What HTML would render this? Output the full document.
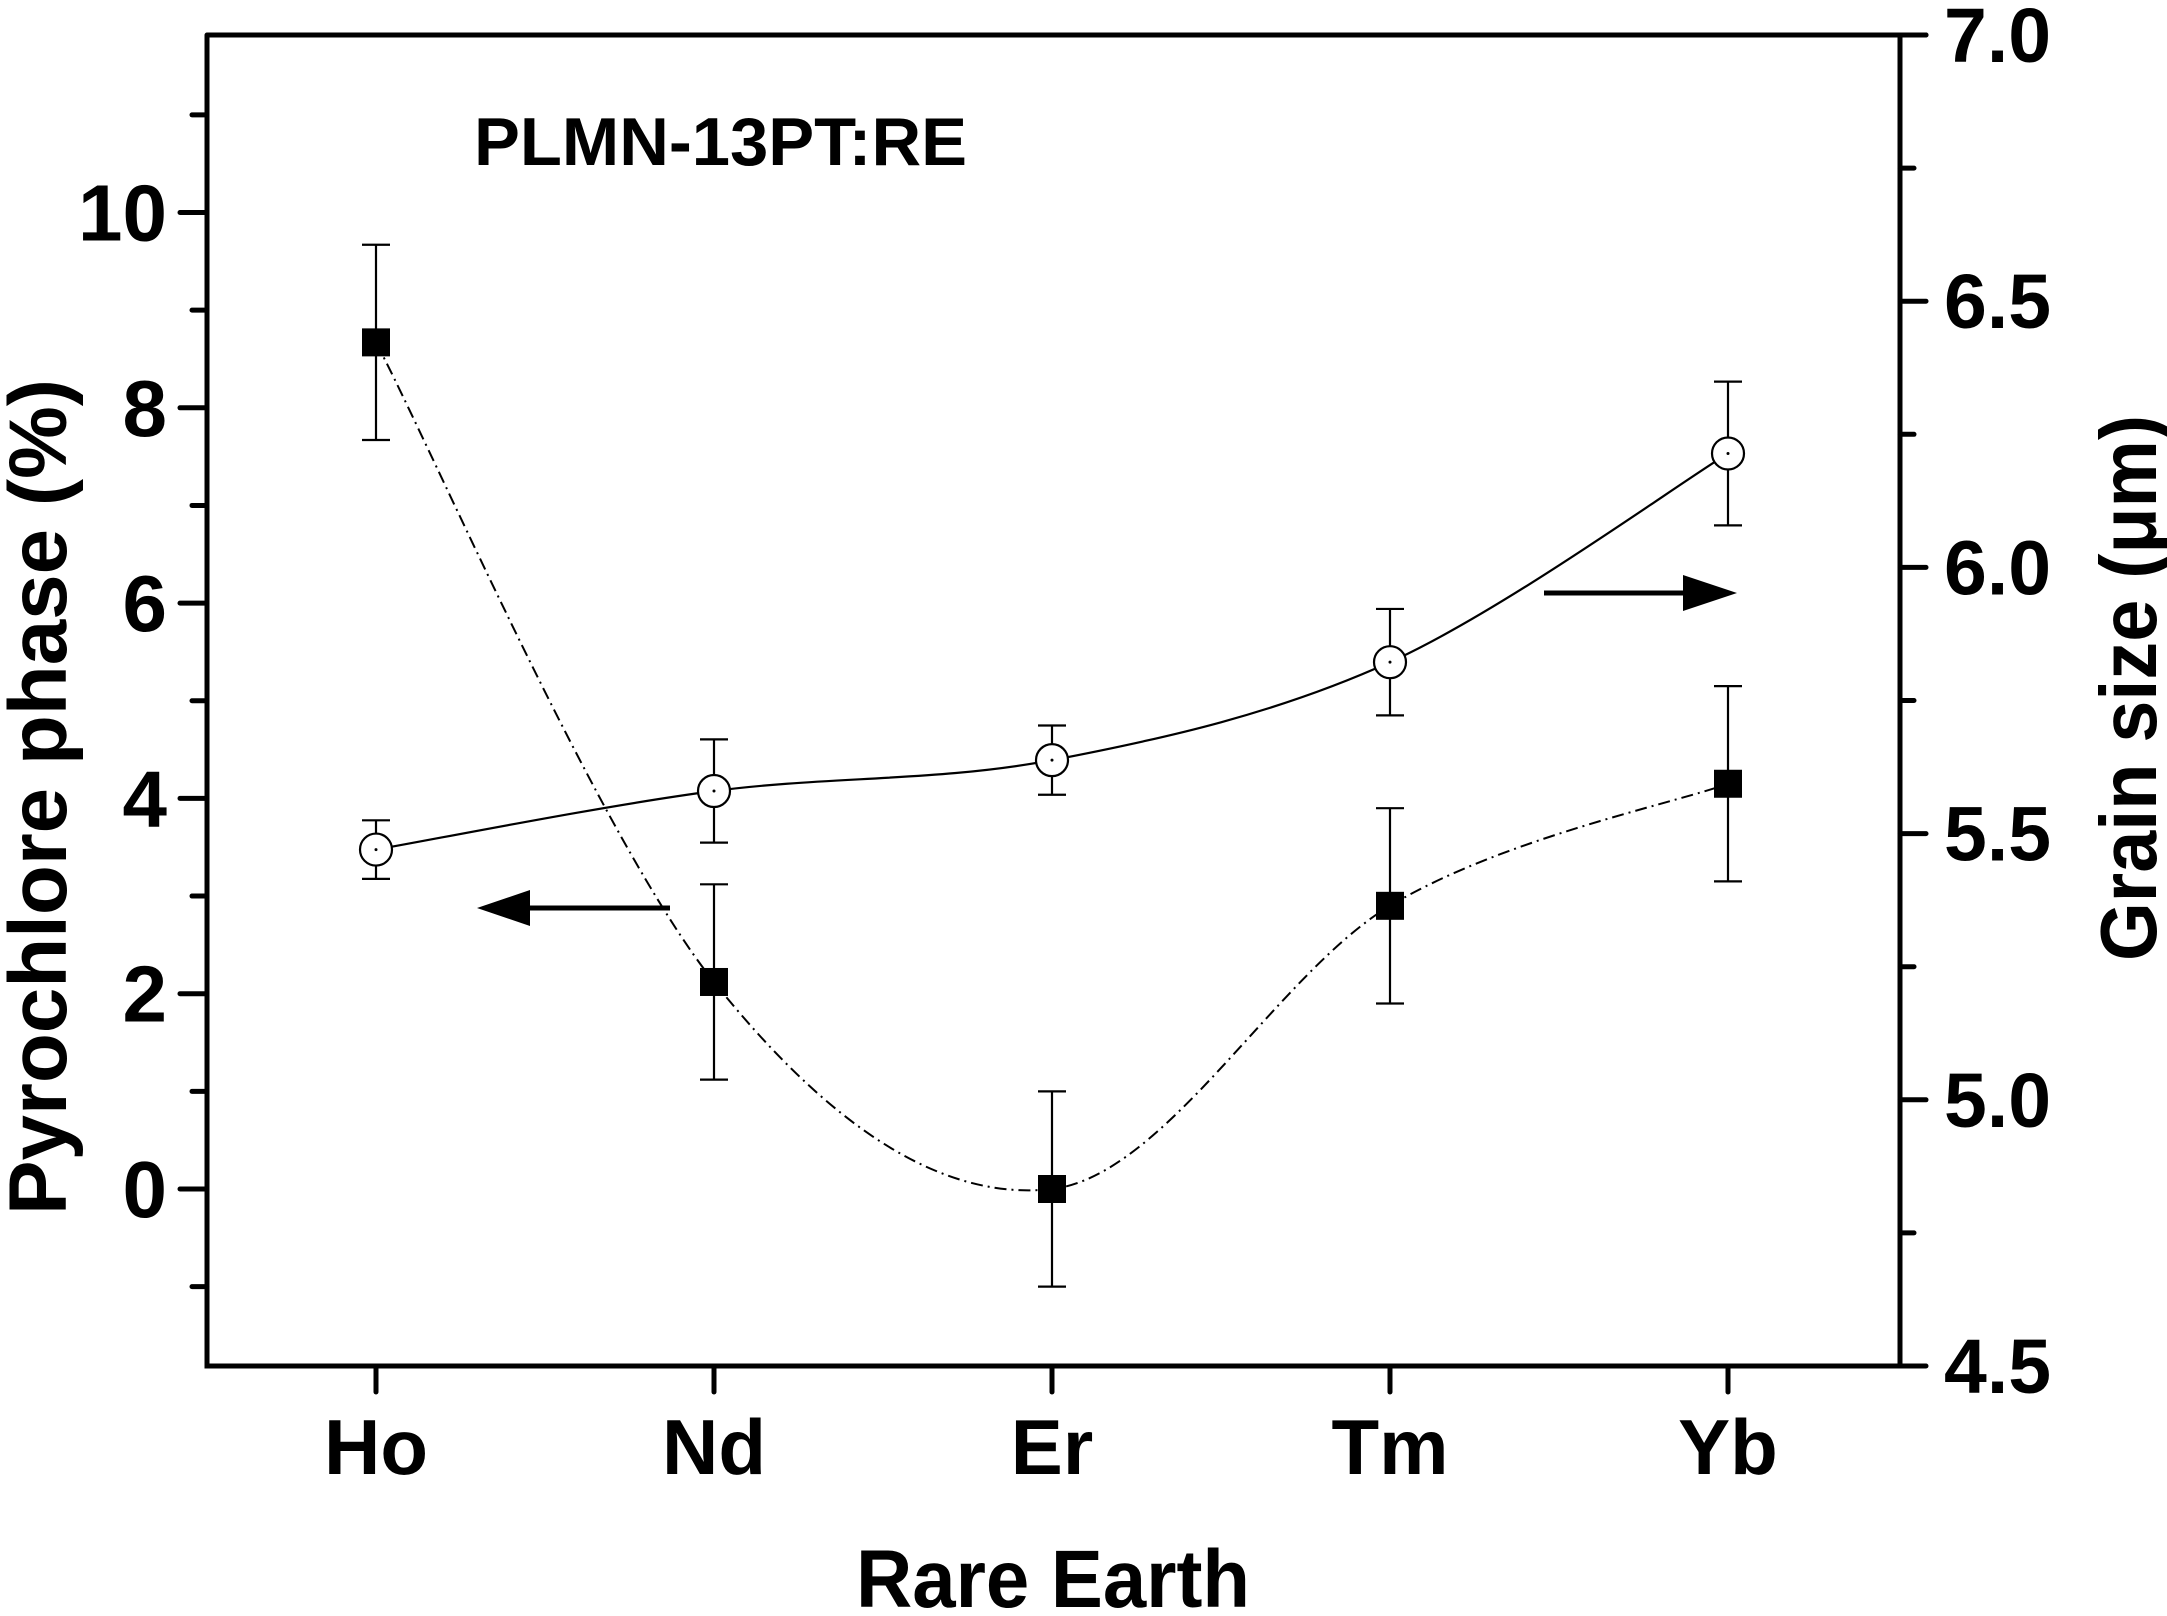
<!DOCTYPE html>
<html><head><meta charset="utf-8"><style>
html,body{margin:0;padding:0;background:#fff;}
svg{display:block;font-family:"Liberation Sans",Arial,sans-serif;font-weight:bold;}
</style></head><body>
<svg id="chart" width="2167" height="1616" viewBox="0 0 2167 1616" xmlns="http://www.w3.org/2000/svg">
<g id="axes"></g>
<g id="series"></g>
<text x="474" y="165" font-size="68" textLength="493" lengthAdjust="spacingAndGlyphs">PLMN-13PT:RE</text>
<text x="1053" y="1607" font-size="82" text-anchor="middle" textLength="394" lengthAdjust="spacingAndGlyphs">Rare Earth</text>
<text transform="translate(66,797) rotate(-90)" font-size="82" text-anchor="middle" textLength="836" lengthAdjust="spacingAndGlyphs">Pyrochlore phase (%)</text>
<text transform="translate(2156,688) rotate(-90)" font-size="80" text-anchor="middle" textLength="546" lengthAdjust="spacingAndGlyphs">Grain size (μm)</text>
<g>
<line x1="670" y1="908" x2="520" y2="908" stroke="#000" stroke-width="5"/>
<polygon points="477,908 530,890 530,926" fill="#000"/>
</g>
<g>
<line x1="1544" y1="593" x2="1690" y2="593" stroke="#000" stroke-width="5"/>
<polygon points="1737,593 1683,575 1683,611" fill="#000"/>
</g>
</svg>
<script>
const categories = ["Ho","Nd","Er","Tm","Yb"];
const pyrochlore = [8.67, 2.12, 0.0, 2.9, 4.15];
const pyrochloreErr = [1.0, 1.0, 1.0, 1.0, 1.0];
const grainSize = [5.47, 5.58, 5.638, 5.822, 6.214];
const grainSizeErr = [0.055, 0.097, 0.065, 0.10, 0.135];
const leftTicks = [0,2,4,6,8,10];
const leftMinor = [-1,1,3,5,7,9,11];
const rightTicks = ["4.5","5.0","5.5","6.0","6.5","7.0"];
const rightMinor = [4.75,5.25,5.75,6.25,6.75];

const NS="http://www.w3.org/2000/svg";
const L=207,R=1900,T=35,B=1366;
const xFirst=376,xStep=338;
function xPos(i){return xFirst+i*xStep;}
const yl0=1189, ylPer=97.65;
function yLeft(v){return yl0-v*ylPer;}
function yRight(v){return B-(v-4.5)/2.5*(B-T);}
function mk(tag,attrs,parent){const e=document.createElementNS(NS,tag);for(const k in attrs)e.setAttribute(k,attrs[k]);parent.appendChild(e);return e;}
const axes=document.getElementById('axes');
const series=document.getElementById('series');

const frame=mk('path',{d:`M${L},${T} L${L},${B} L${R},${B} L${R},${T} L${L},${T} M${R},${T} L${R+26},${T}`,fill:'none',stroke:'#000','stroke-width':5,'stroke-linecap':'round'},axes);



leftTicks.forEach(v=>{
  const y=yLeft(v);
  const t=mk('line',{x1:L-27,y1:y,x2:L,y2:y,stroke:'#000','stroke-width':5,'stroke-linecap':'round'},axes);
  
  
  const tx=mk('text',{x:L-40,y:y+28,'font-size':80,'text-anchor':'end'},axes);
  tx.textContent=v;
  
  
});
leftMinor.forEach(v=>{
  const y=yLeft(v);
  const t=mk('line',{x1:L-15,y1:y,x2:L,y2:y,stroke:'#000','stroke-width':5,'stroke-linecap':'round'},axes);
  
  
});
rightTicks.forEach(s=>{
  const y=yRight(parseFloat(s));
  const t=mk('line',{x1:R,y1:y,x2:R+26,y2:y,stroke:'#000','stroke-width':5,'stroke-linecap':'round'},axes);
  
  
  const tx=mk('text',{x:R+44,y:y+27,'font-size':77},axes);
  tx.textContent=s;
  
  
});
rightMinor.forEach(v=>{
  const y=yRight(v);
  const t=mk('line',{x1:R,y1:y,x2:R+14,y2:y,stroke:'#000','stroke-width':5,'stroke-linecap':'round'},axes);
  
  
});
categories.forEach((c,i)=>{
  const x=xPos(i);
  const t=mk('line',{x1:x,y1:B,x2:x,y2:B+26,stroke:'#000','stroke-width':5,'stroke-linecap':'round'},axes);
  
  
  const tx=mk('text',{x:x,y:1474,'font-size':78,'text-anchor':'middle'},axes);
  tx.textContent=c;
  
  
});

function spline(pts){
  let d=`M${pts[0][0]},${pts[0][1]}`;
  for(let i=0;i<pts.length-1;i++){
    const p0=pts[i-1]||pts[i],p1=pts[i],p2=pts[i+1],p3=pts[i+2]||pts[i+1];
    const c1=[p1[0]+(p2[0]-p0[0])/6,p1[1]+(p2[1]-p0[1])/6];
    const c2=[p2[0]-(p3[0]-p1[0])/6,p2[1]-(p3[1]-p1[1])/6];
    d+=` C${c1[0]},${c1[1]} ${c2[0]},${c2[1]} ${p2[0]},${p2[1]}`;
  }
  return d;
}
const pPts=pyrochlore.map((v,i)=>[xPos(i),yLeft(v)]);
const gPts=grainSize.map((v,i)=>[xPos(i),yRight(v)]);
const pc=mk('path',{d:spline(pPts),fill:'none',stroke:'#000','stroke-width':2,'stroke-dasharray':'12,5,2,5'},series);


const gc=mk('path',{d:spline(gPts),fill:'none',stroke:'#000','stroke-width':2.2},series);



function errBar(x,y1,y2,name){
  const g=mk('path',{d:`M${x},${y1} L${x},${y2} M${x-14},${y1} L${x+14},${y1} M${x-14},${y2} L${x+14},${y2}`,fill:'none',stroke:'#000','stroke-width':2.2},series);
  
  
}
pyrochlore.forEach((v,i)=>{
  const x=xPos(i);
  errBar(x,yLeft(v+pyrochloreErr[i]),yLeft(v-pyrochloreErr[i]),'pyrochlore-error-bar');
  const s=mk('rect',{x:x-14,y:yLeft(v)-14,width:28,height:28,fill:'#000'},series);
  
  
});
grainSize.forEach((v,i)=>{
  const x=xPos(i);
  errBar(x,yRight(v+grainSizeErr[i]),yRight(v-grainSizeErr[i]),'grain-size-error-bar');
  const c=mk('circle',{cx:x,cy:yRight(v),r:16,fill:'#fff',stroke:'#000','stroke-width':2.2},series);
  
  
  const d=mk('circle',{cx:x,cy:yRight(v),r:1.5,fill:'#000'},series);
  
  
});
</script>
</body></html>
